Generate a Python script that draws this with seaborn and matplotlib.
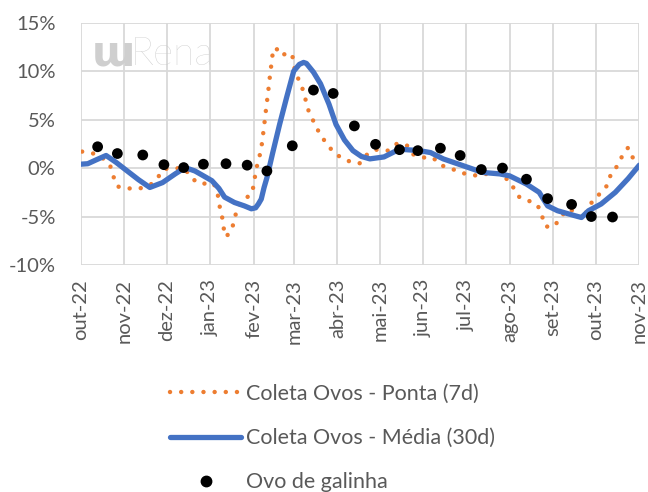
import matplotlib
matplotlib.use("Agg")
import matplotlib.pyplot as plt
from matplotlib.lines import Line2D
import seaborn as sns
import pandas as pd

# ---------------- data ----------------
ponta_dates = ["2022-10-02", "2022-10-10", "2022-10-18", "2022-10-22", "2022-10-24", "2022-10-27",
               "2022-11-04", "2022-11-12", "2022-11-20", "2022-11-25", "2022-11-29", "2022-12-07",
               "2022-12-14", "2022-12-19", "2022-12-25", "2023-01-02", "2023-01-04", "2023-01-06",
               "2023-01-07", "2023-01-09", "2023-01-10", "2023-01-12", "2023-01-16", "2023-01-18",
               "2023-01-20", "2023-01-24", "2023-01-30", "2023-02-01", "2023-02-02", "2023-02-04",
               "2023-02-06", "2023-02-07", "2023-02-08", "2023-02-09", "2023-02-10", "2023-02-11",
               "2023-02-12", "2023-02-13", "2023-02-14", "2023-02-16", "2023-02-18", "2023-02-20",
               "2023-02-25", "2023-02-28", "2023-03-01", "2023-03-04", "2023-03-07", "2023-03-09",
               "2023-03-11", "2023-03-14", "2023-03-17", "2023-03-21", "2023-03-25", "2023-03-30",
               "2023-04-06", "2023-04-12", "2023-04-17", "2023-04-22", "2023-04-28", "2023-05-07",
               "2023-05-13", "2023-05-20", "2023-05-24", "2023-05-31", "2023-06-08", "2023-06-13",
               "2023-06-20", "2023-06-27", "2023-07-04", "2023-07-11", "2023-07-19", "2023-07-24",
               "2023-08-01", "2023-08-05", "2023-08-08", "2023-08-15", "2023-08-21", "2023-08-24",
               "2023-08-26", "2023-08-30", "2023-09-03", "2023-09-07", "2023-09-12", "2023-09-18",
               "2023-09-22", "2023-09-26", "2023-10-01", "2023-10-06", "2023-10-10", "2023-10-12",
               "2023-10-17", "2023-10-20", "2023-10-24", "2023-10-27", "2023-11-01"]
ponta_vals = [1.7, 1.5, 0.9, 0.2, -0.8, -1.9,
              -2.1, -2.1, -1.65, -0.9, -0.1, 0.0,
              -0.1, -1.1, -1.65, -1.5, -1.8, -2.5,
              -3.7, -4.7, -6.0, -7.1, -6.4, -5.3,
              -4.1, -3.3, -2.7, -1.6, -0.3, 0.75,
              2.0, 3.15, 4.3, 5.6, 6.8, 8.0,
              9.3, 10.5, 11.7, 12.45, 12.1, 11.6,
              11.9, 11.7, 10.55, 9.3, 8.3, 7.3,
              6.1, 5.15, 4.2, 3.2, 2.4, 1.5,
              0.9, 0.55, 0.5, 1.4, 1.9, 1.8,
              2.5, 2.4, 1.45, 1.1, 1.05, 0.3,
              0.0, -0.45, -0.7, -0.8, -0.45, -0.6,
              -1.3, -2.35, -3.0, -3.4, -3.85, -4.9,
              -5.95, -6.15, -5.75, -4.9, -4.2, -4.65,
              -5.3, -4.0, -3.0, -2.45, -1.6, -0.5,
              0.3, 1.3, 2.1, 1.15, 0.4]

media_dates = ["2022-10-01", "2022-10-06", "2022-10-12", "2022-10-19", "2022-10-26", "2022-11-03",
               "2022-11-11", "2022-11-19", "2022-11-28", "2022-12-07", "2022-12-14", "2022-12-21",
               "2023-01-02", "2023-01-07", "2023-01-11", "2023-01-18", "2023-01-25", "2023-01-30",
               "2023-02-02", "2023-02-04", "2023-02-06", "2023-02-08", "2023-02-10", "2023-02-14",
               "2023-02-19", "2023-02-24", "2023-03-01", "2023-03-05", "2023-03-08", "2023-03-10",
               "2023-03-15", "2023-03-20", "2023-03-26", "2023-03-31", "2023-04-06", "2023-04-12",
               "2023-04-18", "2023-04-24", "2023-05-04", "2023-05-15", "2023-05-29", "2023-06-06",
               "2023-06-15", "2023-06-29", "2023-07-13", "2023-07-25", "2023-08-01", "2023-08-13",
               "2023-08-22", "2023-08-28", "2023-09-04", "2023-09-16", "2023-09-21", "2023-09-26",
               "2023-10-05", "2023-10-15", "2023-10-24", "2023-11-01"]
media_vals = [0.4, 0.45, 0.85, 1.3, 0.6, -0.3,
              -1.2, -2.0, -1.5, -0.6, 0.05, -0.3,
              -1.3, -2.1, -3.0, -3.55, -3.9, -4.2,
              -4.1, -3.7, -3.2, -2.0, -1.0, 1.5,
              4.5, 7.3, 10.0, 10.7, 10.9, 10.8,
              9.9, 8.7, 6.6, 4.5, 2.9, 1.8,
              1.2, 0.95, 1.15, 1.95, 1.8, 1.6,
              0.95, 0.25, -0.45, -0.6, -0.8, -1.65,
              -2.5, -3.9, -4.4, -4.9, -5.1, -4.4,
              -3.7, -2.5, -1.1, 0.3]

ovo_dates = ["2022-10-13", "2022-10-27", "2022-11-14", "2022-11-29", "2022-12-13", "2022-12-27",
             "2023-01-12", "2023-01-27", "2023-02-10", "2023-02-28", "2023-03-15", "2023-03-29",
             "2023-04-13", "2023-04-28", "2023-05-15", "2023-05-28", "2023-06-13", "2023-06-27",
             "2023-07-12", "2023-07-27", "2023-08-13", "2023-08-28", "2023-09-14", "2023-09-28",
             "2023-10-13"]
ovo_vals = [2.2, 1.5, 1.35, 0.35, 0.05, 0.4,
            0.45, 0.3, -0.3, 2.3, 8.05, 7.7,
            4.35, 2.45, 1.9, 1.8, 2.05, 1.3,
            -0.15, 0.0, -1.15, -3.15, -3.75, -5.0,
            -5.05]

month_labels = ["out-22", "nov-22", "dez-22", "jan-23", "fev-23", "mar-23", "abr-23",
                "mai-23", "jun-23", "jul-23", "ago-23", "set-23", "out-23", "nov-23"]
month_starts = ["2022-10-01", "2022-11-01", "2022-12-01", "2023-01-01", "2023-02-01", "2023-03-01",
                "2023-04-01", "2023-05-01", "2023-06-01", "2023-07-01", "2023-08-01", "2023-09-01",
                "2023-10-01", "2023-11-01"]
y_ticks = [-10, -5, 0, 5, 10, 15]

series_names = ["Coleta Ovos - Ponta (7d)", "Coleta Ovos - Média (30d)", "Ovo de galinha"]

# ---------------- style ----------------
sns.set_theme(style="white")
plt.rcParams["font.family"] = ["Lato", "DejaVu Sans"]

ORANGE = "#ED7D31"
BLUE = "#4472C4"
GRID = "#D9D9D9"
TXT = "#595959"
FS = 14.5
LFS = 15.5

df_p = pd.DataFrame({"date": pd.to_datetime(ponta_dates), "val": ponta_vals})
df_m = pd.DataFrame({"date": pd.to_datetime(media_dates), "val": media_vals})
df_o = pd.DataFrame({"date": pd.to_datetime(ovo_dates), "val": ovo_vals})

fig = plt.figure(figsize=(6.48, 4.92), dpi=100)
ax = fig.add_axes([80.7 / 648, 1 - 265 / 492, (639.3 - 80.7) / 648, (265 - 22.7) / 492])

dot_style = (0, (0.01, 2.5))
sns.lineplot(data=df_p, x="date", y="val", ax=ax, color=ORANGE, lw=3.2,
             linestyle=dot_style, dash_capstyle="round", zorder=3)
sns.lineplot(data=df_m, x="date", y="val", ax=ax, color=BLUE, lw=3.8,
             solid_capstyle="round", solid_joinstyle="round", zorder=4)
sns.scatterplot(data=df_o, x="date", y="val", ax=ax, color="black", s=60,
                edgecolor="none", zorder=5)

ax.set_xlim(pd.Timestamp(month_starts[0]), pd.Timestamp(month_starts[-1]))
ax.set_ylim(-10, 15)
ax.set_xticks(pd.to_datetime(month_starts))
ax.set_xticklabels(month_labels, rotation=90, ha="center", va="top")
ax.set_yticks(y_ticks)
ax.set_yticklabels([f"{v}%" for v in y_ticks])
ax.tick_params(axis="x", length=0, pad=10, labelsize=FS, labelcolor=TXT)
ax.tick_params(axis="y", length=0, pad=18, labelsize=FS, labelcolor=TXT)
ax.set_xlabel("")
ax.set_ylabel("")
ax.grid(True, color=GRID, lw=1.3)
for s in ax.spines.values():
    s.set_visible(False)
ax.set_axisbelow(True)

# watermark logo
ax.text(0.020, 0.825, "ɯ", transform=ax.transAxes, fontsize=30, color="#CFCFCF",
        fontweight="bold", family="DejaVu Sans", va="baseline", ha="left", zorder=1)
ax.text(0.089, 0.825, "Rena", transform=ax.transAxes, fontsize=28, color="#C8C8C8",
        fontweight="light", va="baseline", ha="left", zorder=1)

handles = [
    Line2D([], [], color=ORANGE, lw=3.2, linestyle=dot_style, dash_capstyle="round"),
    Line2D([], [], color=BLUE, lw=3.8, solid_capstyle="round"),
    Line2D([], [], color="black", marker="o", markersize=7.5, lw=0),
]
fig.legend(handles, series_names, loc="upper left",
           bbox_to_anchor=(170 / 648, 1 - 384 / 492), frameon=False,
           fontsize=LFS, labelcolor=TXT, handlelength=3.3, handletextpad=0.25,
           labelspacing=1.12, borderpad=0, borderaxespad=0)

fig.savefig("out.png", dpi=100)
